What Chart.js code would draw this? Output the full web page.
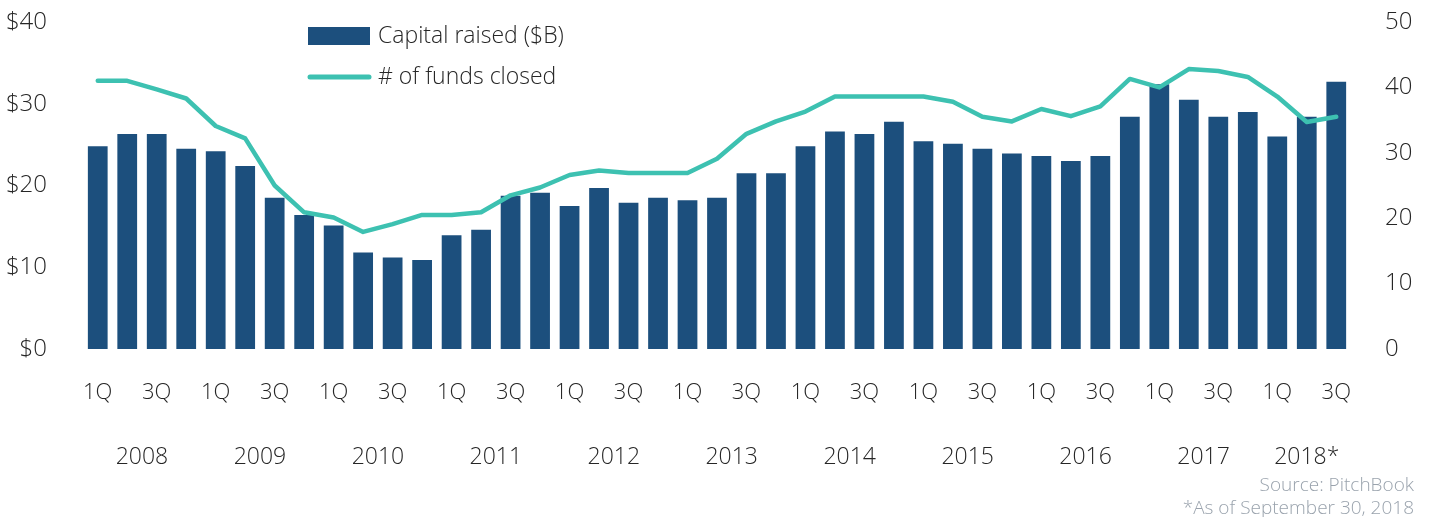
<!DOCTYPE html>
<html>
<head>
<meta charset="utf-8">
<script src="https://cdn.jsdelivr.net/npm/chart.js@4/dist/chart.umd.min.js"></script>
<style>
	body { margin: 0; background: #fff; }
	#wrap { position: relative; width: 1429px; height: 517px; }
</style>
</head>
<body>
<div id="wrap"><canvas id="fundsChart"></canvas></div>
<script>
// quarters 1Q 2008 .. 3Q 2018
const years = ['2008', '2009', '2010', '2011', '2012', '2013', '2014', '2015', '2016', '2017', '2018*'];
const quarterNames = ['1Q', '2Q', '3Q', '4Q'];
const quarterCount = 43;

const capitalRaised = [24.8, 26.3, 26.3, 24.5, 24.2, 22.4, 18.5, 16.4, 15.1, 11.8,
	11.2, 10.9, 13.9, 14.6, 18.75, 19.1, 17.5, 19.7, 17.9, 18.5,
	18.2, 18.5, 21.5, 21.5, 24.8, 26.6, 26.3, 27.8, 25.4, 25.1,
	24.5, 23.9, 23.6, 23.0, 23.6, 28.4, 32.4, 30.5, 28.4, 29.0,
	26.0, 28.4, 32.7];
const fundsClosed = [41, 41, 39.7, 38.3, 34.1, 32.2, 25, 20.9, 20.1, 17.9,
	19.1, 20.5, 20.5, 20.9, 23.5, 24.7, 26.6, 27.3, 26.9, 26.9,
	26.9, 29.1, 32.9, 34.8, 36.3, 38.6, 38.6, 38.6, 38.6, 37.8,
	35.5, 34.8, 36.7, 35.6, 37.1, 41.3, 40.0, 42.8, 42.5, 41.6,
	38.6, 34.7, 35.5];

const leftTicks = [0, 10, 20, 30, 40];
const rightTicks = [0, 10, 20, 30, 40, 50];

const labels = [];
for (let i = 0; i < quarterCount; i++) {
	labels.push(quarterNames[i % 4] + ' ' + years[Math.floor(i / 4)]);
}

const barColor = '#1c4f7d';
const lineColor = '#3dc1b1';
const textColor = '#262626';
const fontFamily = "'Open Sans', sans-serif";

// year labels under the quarter ticks, plus legend and source notes
const extrasPlugin = {
	id: 'extras',
	afterDraw(chart) {
		const ctx = chart.ctx;
		const x = chart.scales.x;
		ctx.save();
		ctx.fillStyle = textColor;
		ctx.font = '300 23px ' + fontFamily;
		ctx.textAlign = 'center';
		ctx.textBaseline = 'middle';
		years.forEach(function(y, k){
			let sum = 0, n = 0;
			for (let i = k * 4; i < Math.min(k * 4 + 4, quarterCount); i++) {
				sum += x.getPixelForValue(i);
				n++;
			}
			ctx.fillText(y, sum / n, 457);
		});

		// legend
		ctx.fillStyle = barColor;
		ctx.fillRect(308, 27, 62, 18);
		ctx.strokeStyle = lineColor;
		ctx.lineWidth = 5;
		ctx.lineCap = 'round';
		ctx.beginPath();
		ctx.moveTo(310, 77);
		ctx.lineTo(369, 77);
		ctx.stroke();
		ctx.fillStyle = textColor;
		ctx.textAlign = 'left';
		ctx.fillText('Capital raised ($B)', 378, 36);
		ctx.fillText('# of funds closed', 378, 77);

		// source
		ctx.fillStyle = '#9aa3ad';
		ctx.font = '300 19px ' + fontFamily;
		ctx.textAlign = 'right';
		ctx.fillText('Source: PitchBook', 1414, 486);
		ctx.fillText('*As of September 30, 2018', 1414, 509);
		ctx.restore();
	}
};

// tick padding would otherwise push the plot top down
const trimPadding = function(s, w){
	s.width = w;
	s.paddingTop = 0;
	s.paddingBottom = 0;
};

new Chart(document.getElementById('fundsChart'), {
	type: 'bar',
	data: {
		labels: labels,
		datasets: [{
			type: 'line',
			label: '# of funds closed',
			data: fundsClosed,
			yAxisID: 'y2',
			borderColor: lineColor,
			borderWidth: 4.5,
			borderCapStyle: 'round',
			borderJoinStyle: 'round',
			pointRadius: 0,
			tension: 0,
			order: 0
		}, {
			type: 'bar',
			label: 'Capital raised ($B)',
			data: capitalRaised,
			yAxisID: 'y',
			backgroundColor: barColor,
			barPercentage: 0.67,
			categoryPercentage: 1,
			order: 1
		}]
	},
	options: {
		responsive: true,
		maintainAspectRatio: false,
		animation: false,
		layout: { padding: { top: 22, left: 0, right: 0, bottom: 0 } },
		plugins: {
			legend: { display: false },
			tooltip: { enabled: false }
		},
		scales: {
			x: {
				grid: { display: false, drawTicks: false },
				border: { display: false },
				ticks: {
					autoSkip: false,
					maxRotation: 0,
					padding: 31,
					color: textColor,
					font: { family: fontFamily, size: 22, weight: '300' },
					callback: function(v, i){ return i % 2 === 0 ? quarterNames[i % 4] : ''; }
				},
				afterFit: function(s){ s.height = 168; }
			},
			y: {
				position: 'left',
				min: 0, max: 40,
				grid: { display: false, drawTicks: false },
				border: { display: false },
				afterBuildTicks: function(s){ s.ticks = leftTicks.map(function(v){ return { value: v }; }); },
				ticks: {
					padding: 36,
					color: textColor,
					font: { family: fontFamily, size: 24, weight: '300' },
					callback: function(v){ return '$' + v; }
				},
				afterFit: function(s){ trimPadding(s, 83); }
			},
			y2: {
				position: 'right',
				min: 0, max: 50,
				grid: { display: false, drawTicks: false },
				border: { display: false },
				afterBuildTicks: function(s){ s.ticks = rightTicks.map(function(v){ return { value: v }; }); },
				ticks: {
					padding: 34,
					color: textColor,
					font: { family: fontFamily, size: 24, weight: '300' }
				},
				afterFit: function(s){ trimPadding(s, 78); }
			}
		}
	},
	plugins: [extrasPlugin]
});
</script>
</body>
</html>
